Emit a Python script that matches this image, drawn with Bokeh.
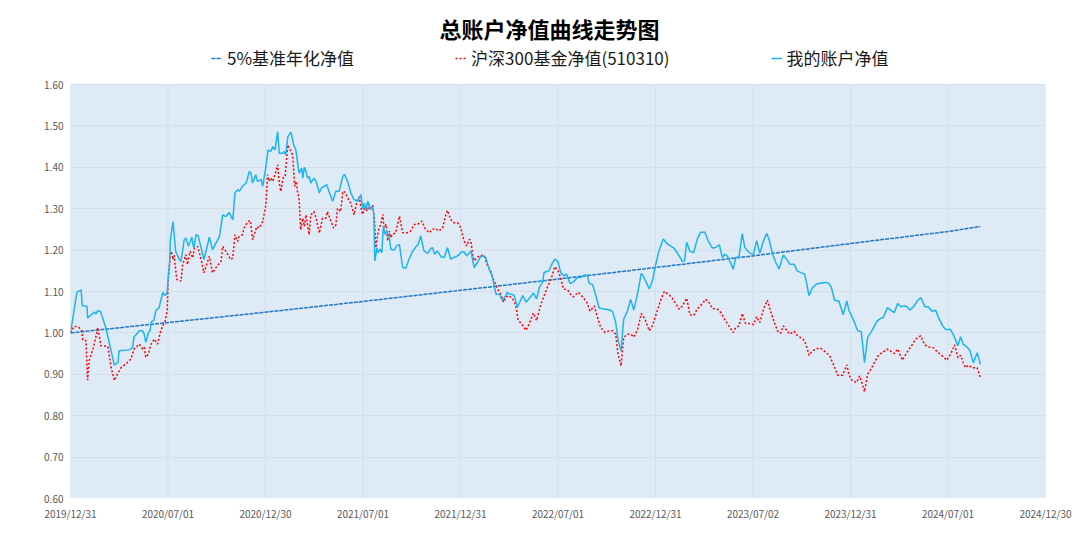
from bokeh.plotting import figure
from bokeh.models import (Legend, LegendItem, FixedTicker, NumeralTickFormatter, Range1d,
                          Label, BoxAnnotation)
from bokeh.embed import file_html
from bokeh.resources import INLINE

# x values are days since 2019-12-31
tick_labels = ["2019/12/31", "2020/07/01", "2020/12/30", "2021/07/01", "2021/12/31",
               "2022/07/01", "2022/12/31", "2023/07/02", "2023/12/31", "2024/07/01", "2024/12/30"]
axis_span_days = 1826
y_min, y_max = 0.6, 1.6

bench_day = [0, 183, 365, 548, 731, 913, 1096, 1278, 1461, 1644, 1704]
bench_nav = [1.000, 1.025, 1.050, 1.076, 1.103, 1.130, 1.158, 1.186, 1.216, 1.245, 1.257]

acct_day = [0, 12, 20, 22, 31, 32, 45, 48, 51, 56, 66, 76, 82, 89, 91, 110, 116, 119, 129, 135,
            138, 141, 146, 149, 151, 156, 160, 166, 169, 173, 177, 181, 183, 186, 187, 192, 197, 204, 207, 213,
            216, 221, 227, 231, 235, 239, 250, 260, 266, 279, 285, 291, 297, 304, 308, 313, 316, 322, 329, 335,
            338, 341, 347, 350, 357, 360, 366, 370, 375, 379, 383, 388, 391, 397, 400, 403, 407, 413, 418, 422,
            428, 433, 435, 438, 441, 444, 447, 450, 456, 460, 466, 470, 475, 480, 484, 491, 497, 503, 510, 513,
            519, 525, 531, 538, 544, 547, 550, 553, 557, 561, 566, 568, 570, 574, 576, 580, 583, 586, 589, 592,
            597, 600, 606, 611, 616, 622, 628, 634, 641, 647, 651, 656, 662, 669, 675, 678, 682, 687, 694, 700,
            706, 712, 718, 725, 731, 737, 742, 750, 756, 762, 768, 775, 778, 784, 790, 797, 803, 809, 815, 818,
            821, 828, 831, 837, 847, 853, 861, 867, 873, 878, 884, 887, 896, 903, 907, 913, 918, 924, 929, 936,
            943, 949, 956, 963, 968, 971, 978, 984, 990, 999, 1009, 1015, 1021, 1025, 1031, 1036, 1043, 1049, 1055, 1062,
            1069, 1074, 1084, 1090, 1096, 1102, 1110, 1118, 1130, 1140, 1146, 1150, 1154, 1160, 1167, 1174, 1180, 1188, 1194, 1202,
            1208, 1215, 1221, 1225, 1230, 1236, 1241, 1246, 1252, 1258, 1263, 1271, 1279, 1285, 1291, 1298, 1304, 1308, 1315, 1321,
            1327, 1335, 1341, 1347, 1355, 1361, 1369, 1375, 1379, 1383, 1389, 1397, 1405, 1414, 1420, 1425, 1431, 1439, 1442, 1447,
            1454, 1458, 1462, 1467, 1474, 1481, 1487, 1493, 1500, 1505, 1511, 1517, 1522, 1530, 1536, 1543, 1549, 1555, 1561, 1567,
            1572, 1580, 1587, 1593, 1600, 1606, 1614, 1620, 1626, 1633, 1639, 1648, 1654, 1662, 1667, 1672, 1678, 1684, 1691, 1698,
            1704]
acct_nav = [1.000, 1.098, 1.104, 1.066, 1.064, 1.036, 1.050, 1.046, 1.054, 1.052, 1.013, 0.957, 0.922, 0.929, 0.957, 0.959, 0.964, 0.990, 1.005, 1.005,
            0.997, 0.977, 1.001, 1.005, 1.026, 1.030, 1.054, 1.061, 1.078, 1.098, 1.090, 1.098, 1.134, 1.176, 1.225, 1.269, 1.197, 1.177, 1.173, 1.225,
            1.229, 1.209, 1.231, 1.205, 1.237, 1.235, 1.177, 1.231, 1.201, 1.233, 1.285, 1.281, 1.291, 1.273, 1.338, 1.346, 1.342, 1.354, 1.362, 1.390,
            1.386, 1.362, 1.382, 1.366, 1.370, 1.354, 1.402, 1.442, 1.438, 1.450, 1.442, 1.486, 1.434, 1.434, 1.438, 1.430, 1.474, 1.485, 1.454, 1.442,
            1.386, 1.398, 1.374, 1.400, 1.390, 1.374, 1.378, 1.362, 1.374, 1.366, 1.338, 1.350, 1.354, 1.358, 1.342, 1.318, 1.342, 1.342, 1.378, 1.383,
            1.366, 1.338, 1.322, 1.318, 1.334, 1.298, 1.314, 1.298, 1.318, 1.298, 1.306, 1.286, 1.174, 1.206, 1.194, 1.202, 1.194, 1.258, 1.238, 1.246,
            1.230, 1.202, 1.200, 1.210, 1.214, 1.158, 1.156, 1.178, 1.198, 1.208, 1.214, 1.234, 1.198, 1.192, 1.204, 1.206, 1.190, 1.198, 1.184, 1.182,
            1.206, 1.178, 1.182, 1.186, 1.194, 1.196, 1.186, 1.198, 1.158, 1.170, 1.184, 1.186, 1.181, 1.154, 1.135, 1.093, 1.094, 1.078, 1.090, 1.098,
            1.094, 1.093, 1.090, 1.062, 1.090, 1.074, 1.086, 1.096, 1.082, 1.110, 1.122, 1.146, 1.150, 1.170, 1.178, 1.172, 1.146, 1.138, 1.142, 1.119,
            1.124, 1.134, 1.134, 1.140, 1.140, 1.121, 1.116, 1.090, 1.060, 1.058, 1.056, 1.052, 1.026, 0.985, 0.956, 1.033, 1.053, 1.081, 1.055, 1.095,
            1.144, 1.134, 1.106, 1.127, 1.165, 1.198, 1.227, 1.215, 1.205, 1.186, 1.173, 1.174, 1.219, 1.197, 1.194, 1.227, 1.243, 1.243, 1.223, 1.205,
            1.206, 1.213, 1.182, 1.190, 1.186, 1.170, 1.154, 1.182, 1.184, 1.240, 1.206, 1.194, 1.189, 1.223, 1.192, 1.223, 1.240, 1.227, 1.190, 1.170,
            1.154, 1.188, 1.178, 1.166, 1.166, 1.150, 1.145, 1.142, 1.118, 1.090, 1.108, 1.118, 1.120, 1.122, 1.120, 1.110, 1.079, 1.077, 1.065, 1.044,
            1.077, 1.053, 1.044, 1.029, 1.006, 1.003, 0.928, 0.989, 1.003, 1.015, 1.029, 1.035, 1.037, 1.061, 1.055, 1.049, 1.071, 1.063, 1.065, 1.063,
            1.055, 1.065, 1.079, 1.085, 1.063, 1.063, 1.052, 1.055, 1.036, 1.018, 1.008, 1.008, 0.994, 0.969, 0.991, 0.972, 0.967, 0.959, 0.928, 0.952,
            0.924]

csi_day = [0, 7, 16, 21, 23, 29, 32, 35, 42, 48, 51, 57, 70, 76, 82, 88, 95, 104, 113, 119,
           129, 135, 138, 141, 146, 151, 157, 163, 169, 173, 177, 181, 183, 185, 187, 189, 192, 194, 199, 207,
           210, 213, 216, 219, 224, 229, 232, 238, 244, 250, 260, 266, 272, 282, 285, 291, 300, 304, 308, 313,
           316, 322, 325, 332, 337, 341, 349, 353, 360, 366, 369, 372, 375, 379, 383, 388, 391, 394, 398, 402,
           407, 410, 416, 420, 423, 425, 428, 431, 435, 438, 441, 447, 450, 456, 460, 466, 472, 478, 481, 488,
           493, 497, 500, 506, 510, 514, 519, 525, 531, 538, 541, 544, 547, 551, 556, 559, 563, 566, 569, 572,
           575, 578, 581, 585, 587, 591, 594, 597, 600, 603, 609, 616, 622, 631, 637, 644, 650, 658, 665, 672,
           678, 684, 690, 697, 703, 706, 712, 718, 725, 731, 737, 742, 747, 750, 753, 756, 762, 768, 775, 781,
           787, 793, 800, 806, 811, 815, 821, 828, 834, 838, 847, 853, 859, 867, 873, 881, 886, 893, 901, 907,
           913, 918, 923, 931, 936, 942, 951, 959, 967, 973, 981, 987, 993, 1001, 1009, 1015, 1021, 1025, 1031, 1036,
           1043, 1049, 1055, 1062, 1069, 1076, 1084, 1090, 1098, 1105, 1112, 1121, 1127, 1134, 1140, 1146, 1154, 1160, 1167, 1174,
           1180, 1190, 1196, 1202, 1212, 1218, 1225, 1233, 1241, 1246, 1252, 1258, 1264, 1271, 1279, 1285, 1291, 1298, 1305, 1311,
           1317, 1324, 1330, 1335, 1341, 1347, 1355, 1361, 1369, 1375, 1380, 1383, 1389, 1397, 1405, 1414, 1422, 1430, 1437, 1446,
           1454, 1458, 1464, 1472, 1478, 1483, 1487, 1493, 1500, 1506, 1514, 1520, 1530, 1537, 1543, 1549, 1558, 1566, 1575, 1583,
           1592, 1600, 1608, 1616, 1623, 1633, 1641, 1648, 1656, 1662, 1667, 1672, 1676, 1682, 1688, 1698, 1704]
csi_nav = [1.000, 1.016, 1.013, 1.005, 0.983, 0.981, 0.886, 0.933, 0.961, 0.993, 1.013, 0.969, 0.967, 0.917, 0.885, 0.901, 0.917, 0.925, 0.937, 0.961,
           0.973, 0.961, 0.965, 0.941, 0.949, 0.973, 0.985, 0.973, 1.005, 1.018, 1.026, 1.054, 1.126, 1.156, 1.188, 1.197, 1.177, 1.188, 1.129, 1.125,
           1.165, 1.177, 1.189, 1.165, 1.197, 1.181, 1.205, 1.209, 1.181, 1.145, 1.185, 1.145, 1.157, 1.173, 1.209, 1.197, 1.177, 1.181, 1.237, 1.221,
           1.233, 1.237, 1.253, 1.269, 1.271, 1.225, 1.257, 1.253, 1.269, 1.309, 1.382, 1.366, 1.374, 1.366, 1.382, 1.406, 1.362, 1.342, 1.374, 1.378,
           1.454, 1.446, 1.430, 1.354, 1.366, 1.342, 1.326, 1.249, 1.277, 1.257, 1.285, 1.237, 1.285, 1.293, 1.277, 1.241, 1.277, 1.277, 1.293, 1.269,
           1.253, 1.261, 1.301, 1.293, 1.342, 1.340, 1.326, 1.313, 1.285, 1.326, 1.328, 1.302, 1.286, 1.302, 1.294, 1.310, 1.298, 1.310, 1.278, 1.206,
           1.234, 1.254, 1.262, 1.286, 1.254, 1.262, 1.222, 1.246, 1.230, 1.238, 1.242, 1.282, 1.242, 1.242, 1.246, 1.262, 1.262, 1.270, 1.250, 1.242,
           1.250, 1.252, 1.246, 1.254, 1.286, 1.296, 1.274, 1.266, 1.266, 1.254, 1.222, 1.210, 1.226, 1.222, 1.190, 1.174, 1.182, 1.188, 1.186, 1.162,
           1.150, 1.126, 1.106, 1.094, 1.074, 1.086, 1.090, 1.082, 1.066, 1.032, 1.018, 1.006, 1.022, 1.048, 1.030, 1.070, 1.086, 1.110, 1.134, 1.160,
           1.150, 1.134, 1.106, 1.104, 1.094, 1.087, 1.098, 1.087, 1.074, 1.053, 1.065, 1.037, 1.013, 1.001, 1.005, 1.005, 0.997, 0.952, 0.920, 0.989,
           0.997, 0.997, 0.990, 1.008, 1.047, 1.033, 1.005, 1.018, 1.050, 1.078, 1.100, 1.092, 1.084, 1.070, 1.057, 1.065, 1.084, 1.044, 1.042, 1.058,
           1.066, 1.081, 1.073, 1.059, 1.057, 1.049, 1.033, 1.017, 1.001, 1.013, 1.017, 1.047, 1.023, 1.023, 1.020, 1.039, 1.025, 1.058, 1.079, 1.053,
           1.029, 1.005, 0.999, 1.017, 1.007, 0.997, 1.004, 0.994, 0.987, 0.981, 0.961, 0.946, 0.956, 0.962, 0.963, 0.954, 0.944, 0.920, 0.898, 0.898,
           0.923, 0.898, 0.885, 0.880, 0.896, 0.876, 0.858, 0.901, 0.914, 0.930, 0.948, 0.952, 0.961, 0.955, 0.950, 0.961, 0.934, 0.952, 0.969, 0.985,
           0.993, 0.971, 0.966, 0.964, 0.955, 0.944, 0.934, 0.948, 0.971, 0.940, 0.946, 0.928, 0.916, 0.922, 0.916, 0.916, 0.892]

title_text = "总账户净值曲线走势图"
series_names = ["5%基准年化净值", "沪深300基金净值(510310)", "我的账户净值"]
CJK = "Noto Sans CJK SC"

# layout in pixels: plot area 414 px tall, with 84 px of header space above it
W, H = 1080, 548
left, right, bottom = 70, 35, 50
area_px, header_px = 414, 84
y_top = y_max + (y_max - y_min) * header_px / area_px

p = figure(width=W, height=H, output_backend="svg", toolbar_location=None,
           x_range=Range1d(0, axis_span_days), y_range=Range1d(y_min, y_top),
           min_border_left=left, min_border_right=right, min_border_bottom=bottom, min_border_top=0,
           background_fill_color="white", border_fill_color="white")
p.outline_line_color = None

# plot-area fill (only the value range, header space stays white)
p.add_layout(BoxAnnotation(left=0, right=axis_span_days, bottom=y_min, top=y_max,
                           fill_color="#DEEAF6", fill_alpha=1.0, line_color=None, level="image"))

tick_pos = [i * axis_span_days / 10 for i in range(11)]
y_ticks = [round(y_min + 0.1 * i, 2) for i in range(11)]
p.xaxis.ticker = FixedTicker(ticks=tick_pos)
p.xaxis.major_label_overrides = {t: lab for t, lab in zip(tick_pos, tick_labels)}
p.yaxis.ticker = FixedTicker(ticks=y_ticks)
p.yaxis.formatter = NumeralTickFormatter(format="0.00")
for ax in (p.xaxis, p.yaxis):
    ax.axis_line_color = None
    ax.major_tick_line_color = None
    ax.minor_tick_line_color = None
    ax.major_tick_in = 0
    ax.major_tick_out = 0
    ax.minor_tick_in = 0
    ax.minor_tick_out = 0
    ax.major_label_text_font = CJK
    ax.major_label_text_font_size = "10px"
    ax.major_label_text_color = "#595959"
    ax.major_label_standoff = 7
p.xgrid.visible = False
p.ygrid.grid_line_color = "#D3DFEA"
# vertical grid lines limited to the value range
p.segment(x0=tick_pos, y0=[y_min] * len(tick_pos), x1=tick_pos, y1=[y_max] * len(tick_pos),
          line_color="#D3DFEA", line_width=1, level="underlay")

styles = [dict(line_color="#1F77C8", line_width=1.5, line_dash="4 1"),
          dict(line_color="#FF0000", line_width=1.5, line_dash="2 2"),
          dict(line_color="#1CB4F0", line_width=1.5)]
r_b = p.line(bench_day, bench_nav, **styles[0])
r_c = p.line(csi_day, csi_nav, **styles[1])
r_a = p.line(acct_day, acct_nav, **styles[2])

frame_h = H - bottom
p.add_layout(Label(x=549 - left, y=frame_h - 27, x_units="screen", y_units="screen",
                   text=title_text, text_font=CJK, text_font_size="22px", text_font_style="bold",
                   text_color="#000000", text_align="center", text_baseline="middle"))

legend = Legend(items=[LegendItem(label=n, renderers=[r]) for n, r in zip(series_names, [r_b, r_c, r_a])],
                orientation="horizontal", location=(213 - left - 2, frame_h - 58 - 12), spacing=101,
                glyph_width=11, glyph_height=14, label_standoff=5,
                label_text_font=CJK, label_text_font_size="17px", label_text_color="#1A1A1A",
                border_line_color=None, background_fill_alpha=0, padding=2, margin=0)
p.add_layout(legend, "center")

open("out.html", "w").write(file_html(p, INLINE))
